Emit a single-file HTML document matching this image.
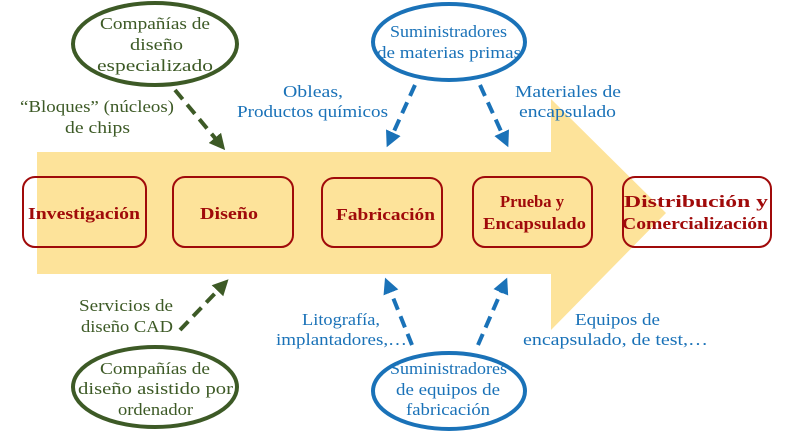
<!DOCTYPE html>
<html><head><meta charset="utf-8"><style>
body{margin:0;background:#fff;width:786px;height:432px;overflow:hidden}
svg text{font-family:"Liberation Serif",serif}
</style></head><body>
<svg width="786" height="432" viewBox="0 0 786 432" xmlns="http://www.w3.org/2000/svg">
<defs>
<marker id="ag" markerWidth="4" markerHeight="4" refX="2" refY="2" orient="auto" markerUnits="strokeWidth"><path d="M0,0 L4,2 L0,4 z" fill="#3d5a26"/></marker>
<marker id="ab" markerWidth="4" markerHeight="4" refX="2" refY="2" orient="auto" markerUnits="strokeWidth"><path d="M0,0 L4,2 L0,4 z" fill="#1a72b8"/></marker>
</defs>
<polygon points="37,152 551,152 551,99 666,213 551,330 551,274 37,274" fill="#fde39a"/>
<g fill="none" stroke="#a00a0a" stroke-width="2">
<rect x="23" y="177" width="123" height="70" rx="12"/>
<rect x="173" y="177" width="120" height="70" rx="12"/>
<rect x="322" y="178" width="120" height="69" rx="12"/>
<rect x="473" y="177" width="119" height="70" rx="12"/>
<rect x="623" y="177" width="148" height="70" rx="12"/>
</g>
<g fill="#a00a0a" font-weight="bold" font-size="17" lengthAdjust="spacingAndGlyphs">
<text x="28" y="219" textLength="112" lengthAdjust="spacingAndGlyphs">Investigación</text>
<text x="200" y="219" textLength="58" lengthAdjust="spacingAndGlyphs">Diseño</text>
<text x="336" y="220" textLength="99" lengthAdjust="spacingAndGlyphs">Fabricación</text>
<text x="500" y="207" textLength="64" lengthAdjust="spacingAndGlyphs">Prueba y</text>
<text x="483" y="229" textLength="103" lengthAdjust="spacingAndGlyphs">Encapsulado</text>
<text x="624" y="207" textLength="144" lengthAdjust="spacingAndGlyphs">Distribución y</text>
<text x="622" y="229" textLength="146" lengthAdjust="spacingAndGlyphs">Comercialización</text>
</g>
<g fill="none" stroke-width="4">
<ellipse cx="155" cy="44" rx="82" ry="41" stroke="#3d5a26"/>
<ellipse cx="155" cy="387" rx="82" ry="40" stroke="#3d5a26"/>
<ellipse cx="449" cy="42" rx="76" ry="38" stroke="#1a72b8"/>
<ellipse cx="449" cy="391" rx="76" ry="38" stroke="#1a72b8"/>
</g>
<g fill="none" stroke-width="4" stroke-dasharray="12,7">
<line x1="175" y1="90" x2="220" y2="144" stroke="#3d5a26" marker-end="url(#ag)"/>
<line x1="180" y1="330" x2="223" y2="285" stroke="#3d5a26" marker-end="url(#ag)"/>
<line x1="415" y1="85" x2="390" y2="140" stroke="#1a72b8" marker-end="url(#ab)"/>
<line x1="480" y1="85" x2="505" y2="140" stroke="#1a72b8" marker-end="url(#ab)"/>
<line x1="412" y1="345" x2="388" y2="285" stroke="#1a72b8" marker-end="url(#ab)"/>
<line x1="478" y1="345" x2="504" y2="285" stroke="#1a72b8" marker-end="url(#ab)"/>
</g>
<g fill="#3d5a26" font-size="17">
<text x="100" y="29" textLength="110" lengthAdjust="spacingAndGlyphs">Compañías de</text>
<text x="130" y="50" textLength="53" lengthAdjust="spacingAndGlyphs">diseño</text>
<text x="97" y="71" textLength="116" lengthAdjust="spacingAndGlyphs">especializado</text>
<text x="20" y="112" textLength="154" lengthAdjust="spacingAndGlyphs">“Bloques” (núcleos)</text>
<text x="65" y="133" textLength="65" lengthAdjust="spacingAndGlyphs">de chips</text>
<text x="79" y="311" textLength="94" lengthAdjust="spacingAndGlyphs">Servicios de</text>
<text x="81" y="332" textLength="92" lengthAdjust="spacingAndGlyphs">diseño CAD</text>
<text x="100" y="374" textLength="110" lengthAdjust="spacingAndGlyphs">Compañías de</text>
<text x="78" y="394" textLength="155" lengthAdjust="spacingAndGlyphs">diseño asistido por</text>
<text x="118" y="415" textLength="75" lengthAdjust="spacingAndGlyphs">ordenador</text>
</g>
<g fill="#1a72b8" font-size="17">
<text x="390" y="37" textLength="117" lengthAdjust="spacingAndGlyphs">Suministradores</text>
<text x="377" y="58" textLength="144" lengthAdjust="spacingAndGlyphs">de materias primas</text>
<text x="283" y="97" textLength="60" lengthAdjust="spacingAndGlyphs">Obleas,</text>
<text x="237" y="117" textLength="151" lengthAdjust="spacingAndGlyphs">Productos químicos</text>
<text x="515" y="97" textLength="106" lengthAdjust="spacingAndGlyphs">Materiales de</text>
<text x="519" y="117" textLength="97" lengthAdjust="spacingAndGlyphs">encapsulado</text>
<text x="302" y="325" textLength="78" lengthAdjust="spacingAndGlyphs">Litografía,</text>
<text x="276" y="345" textLength="131" lengthAdjust="spacingAndGlyphs">implantadores,…</text>
<text x="575" y="325" textLength="85" lengthAdjust="spacingAndGlyphs">Equipos de</text>
<text x="523" y="345" textLength="185" lengthAdjust="spacingAndGlyphs">encapsulado, de test,…</text>
<text x="390" y="374" textLength="117" lengthAdjust="spacingAndGlyphs">Suministradores</text>
<text x="396" y="395" textLength="104" lengthAdjust="spacingAndGlyphs">de equipos de</text>
<text x="406" y="415" textLength="84" lengthAdjust="spacingAndGlyphs">fabricación</text>
</g>
</svg>
</body></html>
